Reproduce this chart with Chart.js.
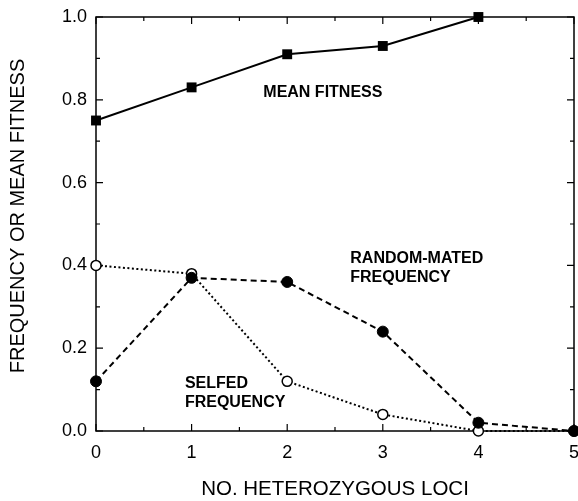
<!DOCTYPE html>
<html>
<head>
<meta charset="utf-8">
<script src="https://cdn.jsdelivr.net/npm/chart.js@4/dist/chart.umd.min.js"></script>
<style>
  html, body { margin: 0; padding: 0; background: #fff; }
  #wrap { width: 578px; height: 501px; }
</style>
</head>
<body>
<div id="wrap"><canvas id="c" width="578" height="501"></canvas></div>
<script>
// Number of heterozygous loci (x axis)
const loci = [0, 1, 2, 3, 4, 5];

// Mean fitness, defined for 0..4 heterozygous loci
const meanFitness = [0.75, 0.83, 0.91, 0.93, 1.00];

// Genotype frequencies under random mating and under selfing
const randomMatedFreq = [0.12, 0.37, 0.36, 0.24, 0.02, 0.00];
const selfedFreq = [0.40, 0.38, 0.12, 0.04, 0.00, 0.00];

// Axis ticks: labelled (major) and unlabelled (minor)
const xMajorTicks = [0, 1, 2, 3, 4, 5];
const xMinorTicks = [0.5, 1.5, 2.5, 3.5, 4.5];
const yMajorTicks = [0.0, 0.2, 0.4, 0.6, 0.8, 1.0];
const yMinorTicks = [0.1, 0.3, 0.5, 0.7, 0.9];

// Axis titles
const xTitle = 'NO. HETEROZYGOUS LOCI';
const yTitle = 'FREQUENCY OR MEAN FITNESS';

// In-plot labels, anchored in data coordinates (left edge, baseline)
const curveLabels = [
  { lines: ['MEAN FITNESS'], x: 1.75, y: 0.807 },
  { lines: ['RANDOM-MATED', 'FREQUENCY'], x: 2.66, y: 0.406 },
  { lines: ['SELFED', 'FREQUENCY'], x: 0.93, y: 0.104 }
];

const FONT = '"Liberation Sans", Arial, Helvetica, sans-serif';
const toPoints = (xs, ys) => ys.map((v, i) => ({ x: xs[i], y: v }));

// Closed frame with inward-pointing ticks on all four sides, plus text
const framePlugin = {
  id: 'frame',
  beforeDatasetsDraw(chart) {
    const { ctx, chartArea: a, scales: { x, y } } = chart;
    ctx.save();
    ctx.strokeStyle = '#000';
    ctx.lineWidth = 1.5;
    ctx.strokeRect(a.left, a.top, a.right - a.left, a.bottom - a.top);
    ctx.lineWidth = 1.2;
    ctx.beginPath();
    const xt = (vals, len) => vals.forEach(v => {
      const px = x.getPixelForValue(v);
      ctx.moveTo(px, a.bottom); ctx.lineTo(px, a.bottom - len);
      ctx.moveTo(px, a.top); ctx.lineTo(px, a.top + len);
    });
    const yt = (vals, len) => vals.forEach(v => {
      const py = y.getPixelForValue(v);
      ctx.moveTo(a.left, py); ctx.lineTo(a.left + len, py);
      ctx.moveTo(a.right, py); ctx.lineTo(a.right - len, py);
    });
    xt(xMajorTicks, 7); xt(xMinorTicks, 4);
    yt(yMajorTicks, 7); yt(yMinorTicks, 4);
    ctx.stroke();
    ctx.restore();
  },
  afterDatasetsDraw(chart) {
    const { ctx, chartArea: a, scales: { x, y } } = chart;
    ctx.save();
    ctx.fillStyle = '#000';
    ctx.font = 'bold 16px ' + FONT;
    ctx.textAlign = 'left';
    ctx.textBaseline = 'alphabetic';
    curveLabels.forEach(l => {
      const px = x.getPixelForValue(l.x);
      const py = y.getPixelForValue(l.y);
      l.lines.forEach((t, i) => ctx.fillText(t, px, py + i * 19));
    });
    // vertical axis title
    ctx.font = '20px ' + FONT;
    ctx.textAlign = 'center';
    ctx.textBaseline = 'middle';
    ctx.translate(18, (a.top + a.bottom) / 2 - 8);
    ctx.rotate(-Math.PI / 2);
    ctx.fillText(yTitle, 0, 0);
    ctx.restore();
  }
};

new Chart(document.getElementById('c'), {
  type: 'line',
  data: {
    datasets: [
      {
        label: 'Random-mated frequency',
        data: toPoints(loci, randomMatedFreq),
        borderColor: '#000',
        borderWidth: 2,
        borderDash: [6, 4],
        pointStyle: 'circle',
        pointRadius: 5.5,
        pointBackgroundColor: '#000',
        pointBorderColor: '#000',
        pointBorderWidth: 1,
        order: 0
      },
      {
        label: 'Selfed frequency',
        data: toPoints(loci, selfedFreq),
        borderColor: '#000',
        borderWidth: 2,
        borderDash: [2, 2.5],
        pointStyle: 'circle',
        pointRadius: 5,
        pointBackgroundColor: '#fff',
        pointBorderColor: '#000',
        pointBorderWidth: 1.5,
        order: 1
      },
      {
        label: 'Mean fitness',
        data: toPoints(loci, meanFitness),
        borderColor: '#000',
        borderWidth: 2,
        pointStyle: 'rect',
        pointRadius: 7,
        pointBackgroundColor: '#000',
        pointBorderColor: '#000',
        pointBorderWidth: 0,
        order: 2
      }
    ]
  },
  options: {
    responsive: false,
    animation: false,
    devicePixelRatio: 1,
    clip: false,
    elements: { line: { tension: 0, fill: false } },
    layout: { autoPadding: false, padding: { left: 0, right: 4, top: 17, bottom: 0 } },
    plugins: { legend: { display: false }, tooltip: { enabled: false } },
    scales: {
      x: {
        type: 'linear',
        min: 0,
        max: 5,
        grid: { display: false, drawTicks: false },
        border: { display: false },
        afterBuildTicks: s => { s.ticks = xMajorTicks.map(v => ({ value: v })); },
        ticks: {
          padding: 11,
          color: '#000',
          font: { family: FONT, size: 18 },
          maxRotation: 0,
          callback: v => String(v)
        },
        title: {
          display: true,
          text: xTitle,
          color: '#000',
          font: { family: FONT, size: 20.5, lineHeight: 1.1 },
          padding: { top: 0, bottom: 0 }
        },
        afterFit: s => { s.height = 70; s.paddingLeft = 0; s.paddingRight = 0; }
      },
      y: {
        type: 'linear',
        min: 0,
        max: 1,
        grid: { display: false, drawTicks: false },
        border: { display: false },
        afterBuildTicks: s => { s.ticks = yMajorTicks.map(v => ({ value: v })); },
        ticks: {
          padding: 9,
          color: '#000',
          font: { family: FONT, size: 18 },
          callback: v => Number(v).toFixed(1)
        },
        title: { display: false },
        afterFit: s => { s.width = 96; s.paddingTop = 0; s.paddingBottom = 0; }
      }
    }
  },
  plugins: [framePlugin]
});
</script>
</body>
</html>
